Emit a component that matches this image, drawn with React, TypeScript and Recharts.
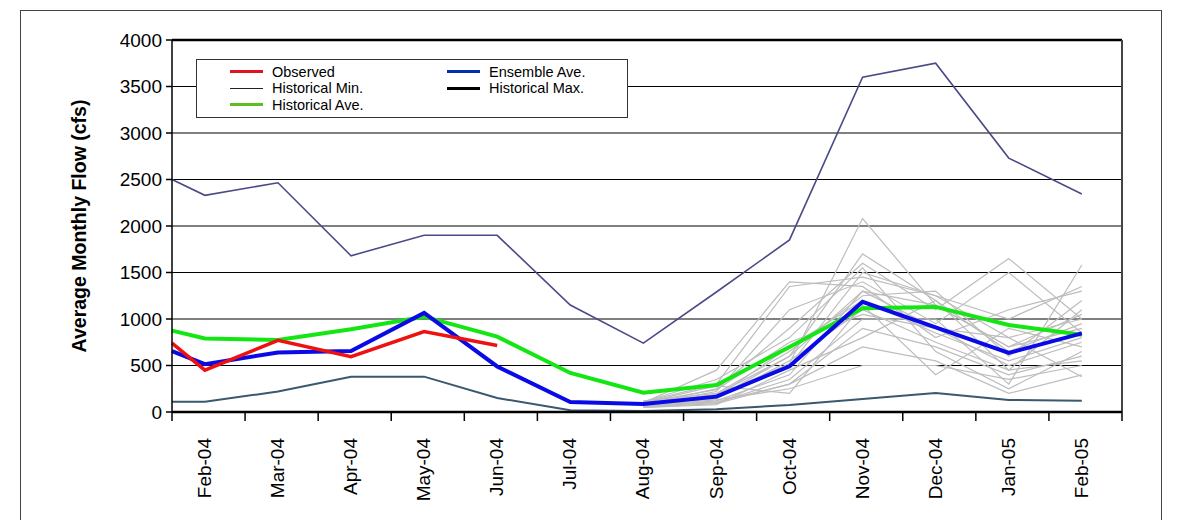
import { LineChart, Line, XAxis, YAxis, CartesianGrid, ReferenceLine } from "recharts";

const FONT = "Arial, 'Liberation Sans', sans-serif";

const months = [
    "Feb-04", "Mar-04", "Apr-04", "May-04", "Jun-04", "Jul-04", "Aug-04",
    "Sep-04", "Oct-04", "Nov-04", "Dec-04", "Jan-05", "Feb-05",
];

// first value sits on the left edge of the plot, the rest are Feb-04 onward
const observed = [740, 450, 770, 595, 865, 715];
const historicalMax = [2500, 2330, 2465, 1680, 1900, 1900, 1150, 740, 1290, 1850, 3600, 3750, 2730, 2345];
const historicalMin = [110, 110, 220, 380, 380, 150, 20, 10, 30, 75, 140, 205, 130, 120];
const historicalAve = [875, 790, 775, 890, 1025, 810, 420, 207, 290, 700, 1115, 1130, 935, 830];
const ensembleAve = [655, 515, 640, 655, 1065, 490, 108, 85, 165, 492, 1185, 910, 635, 845];

// ensemble traces, Aug-04 .. Feb-05
const traceStart = 6;
const ensembleTraces = [
    [90, 180, 520, 2080, 1150, 700, 900],
    [70, 150, 600, 1700, 1200, 450, 1100],
    [110, 300, 1350, 1450, 1250, 800, 1000],
    [60, 120, 400, 1300, 900, 500, 750],
    [80, 250, 900, 1600, 1100, 1650, 1000],
    [100, 450, 1400, 1350, 800, 1100, 1300],
    [50, 90, 300, 900, 700, 400, 600],
    [120, 200, 650, 1250, 1300, 600, 1200],
    [70, 130, 250, 500, 500, 350, 500],
    [90, 160, 700, 1200, 850, 550, 800],
    [60, 100, 350, 1000, 1000, 300, 1580],
    [80, 220, 1100, 1400, 950, 1500, 850],
    [100, 280, 200, 1150, 400, 900, 700],
    [50, 80, 450, 800, 1200, 650, 950],
    [110, 350, 800, 1550, 650, 250, 650],
    [70, 140, 550, 1100, 750, 450, 550],
    [90, 190, 600, 1300, 1150, 700, 1050],
    [60, 110, 300, 700, 550, 200, 400],
    [80, 170, 500, 1500, 1250, 1000, 1350],
    [100, 240, 750, 1050, 900, 800, 380],
];

const yTicks = [0, 500, 1000, 1500, 2000, 2500, 3000, 3500, 4000];
const xTicks = months.map((_, i) => i).concat(months.length);

const MONTH_POS = 0.45;

const withEdge = (values: number[]) =>
    values.map((v, i) => ({ x: i === 0 ? 0 : i - 1 + MONTH_POS, v }));

const fromMonth = (values: number[], start: number) =>
    values.map((v, i) => ({ x: start + i + MONTH_POS, v }));

const legendItems = [
    { label: "Observed", color: "#e0141e", width: 3, col: 0, row: 0 },
    { label: "Historical Min.", color: "#222", width: 1, col: 0, row: 1 },
    { label: "Historical Ave.", color: "#5cbf1f", width: 3, col: 0, row: 2 },
    { label: "Ensemble Ave.", color: "#0030b0", width: 3, col: 1, row: 0 },
    { label: "Historical Max.", color: "#000", width: 3, col: 1, row: 1 },
];

const MonthTick = (props: any) => {
    const { x, payload } = props;
    const label = months[payload.value];
    if (!label) return <g />;
    const bx = x + 39;
    const by = 438;
    return (
        <text
            x={bx}
            y={by}
            transform={`rotate(-90 ${bx} ${by})`}
            textAnchor="end"
            fontSize={19}
            fontFamily={FONT}
            fill="#000"
        >
            {label}
        </text>
    );
};

export default function App() {
    return (
        <div style={{ position: "absolute", left: 0, top: 0, width: 1183, height: 520, background: "#fff", overflow: "hidden" }}>
            <div
                style={{
                    position: "absolute",
                    left: 20,
                    top: 10,
                    width: 1140,
                    height: 530,
                    border: "1.5px solid #444",
                }}
            />
            <div style={{ position: "absolute", left: 0, top: 0 }}>
                <LineChart width={1183} height={520} margin={{ top: 40, right: 61, left: 0, bottom: 48 }}>
                    <CartesianGrid horizontal vertical={false} stroke="#000" strokeWidth={1} />

                    <XAxis
                        type="number"
                        dataKey="x"
                        domain={[0, 13]}
                        ticks={xTicks}
                        interval={0}
                        height={60}
                        tick={<MonthTick />}
                        tickSize={9}
                        tickLine={{ stroke: "#000", strokeWidth: 1.5 }}
                        axisLine={{ stroke: "#000", strokeWidth: 2.5 }}
                    />

                    <YAxis
                        type="number"
                        domain={[0, 4000]}
                        ticks={yTicks}
                        interval={0}
                        width={172}
                        tickSize={6}
                        tickMargin={4}
                        tick={{ fontSize: 19, fontFamily: FONT, fill: "#000" }}
                        tickLine={{ stroke: "#000", strokeWidth: 1.5 }}
                        axisLine={{ stroke: "#000", strokeWidth: 1.5 }}
                        label={{
                            value: "Average Monthly Flow (cfs)",
                            angle: -90,
                            position: "insideLeft",
                            dx: 74,
                            style: { fontSize: 19.5, fontWeight: "bold", fontFamily: FONT, fill: "#000", textAnchor: "middle" },
                        }}
                    />

                    <ReferenceLine y={4000} stroke="#000" strokeWidth={2.5} />
                    <ReferenceLine x={13} stroke="#444" strokeWidth={2} />

                    {/* ensemble traces */}
                    {ensembleTraces.map((trace, i) => (
                        <Line
                            key={"trace" + i}
                            data={fromMonth(trace, traceStart)}
                            dataKey="v"
                            type="linear"
                            stroke="#bdbdbd"
                            strokeWidth={1.2}
                            dot={false}
                            isAnimationActive={false}
                        />
                    ))}

                    <Line data={withEdge(historicalMax)} dataKey="v" type="linear" stroke="#4a4a88" strokeWidth={1.6} dot={false} isAnimationActive={false} />
                    <Line data={withEdge(historicalMin)} dataKey="v" type="linear" stroke="#3a586e" strokeWidth={2} dot={false} isAnimationActive={false} />
                    <Line data={withEdge(historicalAve)} dataKey="v" type="linear" stroke="#14e614" strokeWidth={4} dot={false} isAnimationActive={false} />
                    <Line data={withEdge(ensembleAve)} dataKey="v" type="linear" stroke="#0a0ae6" strokeWidth={4} dot={false} isAnimationActive={false} />
                    <Line data={withEdge(observed)} dataKey="v" type="linear" stroke="#ee1111" strokeWidth={3.5} dot={false} isAnimationActive={false} />
                </LineChart>
            </div>

            {/* legend */}
            <div
                style={{
                    position: "absolute",
                    left: 196,
                    top: 59,
                    width: 430,
                    height: 57,
                    border: "1.5px solid #333",
                    background: "#fff",
                    fontFamily: FONT,
                    fontSize: 14.5,
                    color: "#000",
                }}
            >
                {legendItems.map((item) => (
                    <div
                        key={item.label}
                        style={{
                            position: "absolute",
                            left: item.col === 0 ? 33 : 250,
                            top: 3 + item.row * 16.5,
                            height: 17,
                            display: "flex",
                            alignItems: "center",
                            whiteSpace: "nowrap",
                        }}
                    >
                        <span style={{ display: "inline-block", width: 33, height: item.width, background: item.color, marginRight: 9 }} />
                        <span>{item.label}</span>
                    </div>
                ))}
            </div>
        </div>
    );
}
